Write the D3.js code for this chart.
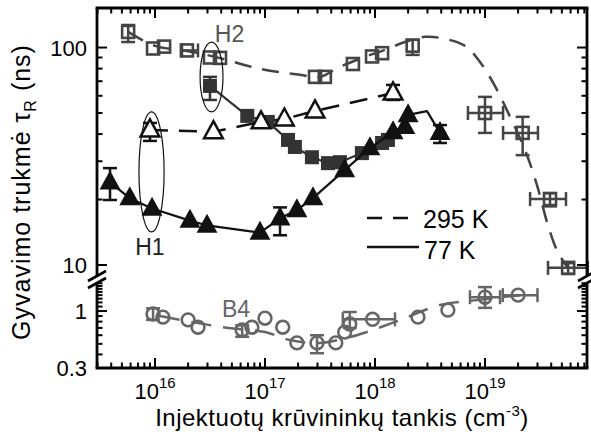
<!DOCTYPE html>
<html>
<head>
<meta charset="utf-8">
<script src="https://cdn.jsdelivr.net/npm/d3@7"></script>
<style>
  body { margin: 0; background: #fff; }
  svg { display: block; }
  text { font-family: "Liberation Sans", Arial, Helvetica, sans-serif; }
</style>
</head>
<body>
<svg id="chart" width="591" height="435"></svg>
<script>
// ---- data: injected carrier density (cm^-3) vs. recombination lifetime (ns) ----
const xTickValues = [1e16, 1e17, 1e18, 1e19];
const xTickExponents = ["16", "17", "18", "19"];
const yTicksUpper = [10, 100];
const yTickLabelsUpper = ["10", "100"];
const yTicksLower = [0.3, 1];
const yTickLabelsLower = ["0.3", "1"];

// 295 K, open squares
const sq295 = [[5.7e15, 118], [9.6e15, 99], [1.21e16, 101], [1.95e16, 97], [3.16e16, 90], [3.9e16, 89.6],
  [2.85e17, 73.3], [3.5e17, 73.3], [6.3e17, 84], [9.4e17, 91], [1.16e18, 94.2], [2.2e18, 102],
  [1.0e19, 50], [2.2e19, 40.5], [3.9e19, 20.1], [5.7e19, 9.7]];
// error bars: [index, xLo, xHi, yLo, yHi]
const sq295Err = [[0, null, null, 106, 127], [3, 1.76e16, 2.46e16, null, null], [11, null, null, 92.5, 108.5],
  [12, 7.0e18, 1.46e19, 40.5, 59.3], [13, 1.46e19, 3.03e19, 32, 48], [14, 2.57e19, 5.45e19, 18.6, 21.4],
  [15, 3.74e19, 8.6e19, 9.1, 10.2]];
// 295 K trend curve for the squares
const sq295Fit = [[5.7e15, 118], [1e16, 101.8], [1.95e16, 96.5], [3.51e16, 90.6], [9.0e16, 79.8], [2.08e17, 74.9],
  [3.16e17, 73.3], [4.8e17, 81.5], [8.1e17, 90.6], [1.23e18, 97.6], [1.87e18, 106], [2.85e18, 112],
  [4.33e18, 109.6], [6.58e18, 101.8], [9.0e18, 85.9], [1.23e19, 66.6], [1.69e19, 48], [2.31e19, 33.8],
  [2.97e19, 23.3], [3.74e19, 15.2], [4.61e19, 11.4], [5.7e19, 9.7]];

// 295 K, open triangles
const tri295 = [[9.0e15, 41.8], [3.4e16, 41.0], [9.2e16, 45.5], [1.5e17, 46.9], [2.85e17, 51.1], [1.46e18, 61.8]];
const tri295Err = [[0, null, null, 37.2, 45], [5, null, null, 57.4, 67.3]];

// 77 K, filled squares
const sq77 = [[3.16e16, 66.6], [6.9e16, 48.5], [1.06e17, 45.5], [1.62e17, 37.6], [1.87e17, 34.9], [2.67e17, 31.3],
  [3.74e17, 29.4], [4.8e17, 29.7], [7.6e17, 32.7], [1.16e18, 36.4], [1.31e18, 37.6]];
const sq77Err = [[0, null, null, 57.4, 73.3]];

// 77 K, filled triangles
const tri77 = [[3.9e15, 24.0], [5.9e15, 20.3], [9.4e15, 18.2], [2.08e16, 16.0], [2.97e16, 15.2], [9.0e16, 14.1],
  [1.37e17, 16.4], [1.95e17, 17.9], [2.73e17, 20.3], [5.3e17, 27.3], [9.0e17, 34.5], [1.46e18, 40.9],
  [1.87e18, 43.2], [2.0e18, 49.0], [3.9e18, 40.5]];
const tri77Err = [[0, null, null, 19.9, 27.9], [6, null, null, 13.7, 18.4], [14, null, null, 36.4, 44]];
const tri77Turn = [2.97e18, 51];

// B4, open circles (lower panel)
const b4 = [[9.6e15, 0.94], [1.18e16, 0.88], [2.0e16, 0.83], [2.46e16, 0.71], [6.2e16, 0.67], [7.6e16, 0.71],
  [1.0e17, 0.86], [1.45e17, 0.71], [1.95e17, 0.51], [2.97e17, 0.51], [4.4e17, 0.51], [5.3e17, 0.64],
  [5.9e17, 0.76], [9.5e17, 0.84], [2.46e18, 0.88], [4.6e18, 1.02], [1.0e19, 1.34], [2.0e19, 1.40]];
const b4Err = [[0, null, null, 0.83, 1.06], [4, null, null, 0.58, 0.74], [9, null, null, 0.41, 0.60],
  [12, null, null, 0.70, 0.98], [13, 5.1e17, 1.52e18, null, null], [16, 7.3e18, 1.37e19, 1.07, 1.66],
  [17, 1.45e19, 3.0e19, null, null]];
const b4Fit = [[1.11e16, 0.90], [4.06e16, 0.713], [1e17, 0.642], [1.69e17, 0.542], [3.16e17, 0.509],
  [5.93e17, 0.577], [8.46e17, 0.642], [1.69e18, 0.827], [3.9e18, 1.135], [8.46e18, 1.26], [2.08e19, 1.40]];

// ---- layout ----
const svg = d3.select("#chart");
const L = 97, R = 587, T = 8, B = 368;
const upperBottom = 276, lowerTop = 283;

const x = d3.scaleLog().domain([2.97e15, 8.46e19]).range([L, R]);
const yU = d3.scaleLog().domain([8.9, 152]).range([upperBottom, T]);
const yL = d3.scaleLog().domain([0.3, 1.81]).range([B, lowerTop]);

const black = "#111", gray = "#444", darkGray = "#333", lightGray = "#666";
const FONT = 22;

// ---- clip regions for the two panels ----
const defs = svg.append("defs");
defs.append("clipPath").attr("id", "clipU").append("rect")
  .attr("x", L).attr("y", T).attr("width", R - L + 4).attr("height", upperBottom - T + 4);
defs.append("clipPath").attr("id", "clipL").append("rect")
  .attr("x", L).attr("y", lowerTop).attr("width", R - L + 4).attr("height", B - lowerTop);

const gU = svg.append("g").attr("clip-path", "url(#clipU)");
const gL = svg.append("g").attr("clip-path", "url(#clipL)");

// ---- helpers ----
function line(g, data, y, color, width, dash, curve) {
  g.append("path").datum(data)
    .attr("d", d3.line().x(d => x(d[0])).y(d => y(d[1])).curve(curve || d3.curveLinear))
    .attr("fill", "none").attr("stroke", color).attr("stroke-width", width)
    .attr("stroke-dasharray", dash || null).attr("stroke-linejoin", "round");
}
function errorBars(g, data, errs, y, color) {
  const cap = 7;
  errs.forEach(([i, xLo, xHi, yLo, yHi]) => {
    const cx = x(data[i][0]), cy = y(data[i][1]);
    if (yLo != null) {
      g.append("line").attr("x1", cx).attr("x2", cx).attr("y1", y(yLo)).attr("y2", y(yHi))
        .attr("stroke", color).attr("stroke-width", 2.5);
      [yLo, yHi].forEach(v => g.append("line").attr("x1", cx - cap).attr("x2", cx + cap)
        .attr("y1", y(v)).attr("y2", y(v)).attr("stroke", color).attr("stroke-width", 2.5));
    }
    if (xLo != null) {
      g.append("line").attr("x1", x(xLo)).attr("x2", x(xHi)).attr("y1", cy).attr("y2", cy)
        .attr("stroke", color).attr("stroke-width", 2.5);
      [xLo, xHi].forEach(v => g.append("line").attr("x1", x(v)).attr("x2", x(v))
        .attr("y1", cy - cap).attr("y2", cy + cap).attr("stroke", color).attr("stroke-width", 2.5));
    }
  });
}
const triPath = s => `M0,${-s * 0.62}L${s * 0.55},${s * 0.38}L${-s * 0.55},${s * 0.38}Z`;

// ---- 295 K squares: trend curve, error bars ----
line(gU, sq295Fit, yU, gray, 2.5, "17,11", d3.curveCatmullRom);
errorBars(gU, sq295, sq295Err, yU, gray);

// ---- 295 K open triangles: line and error bars ----
line(gU, tri295, yU, black, 2.5, "18,11");
errorBars(gU, tri295, tri295Err, yU, black);

// ---- 77 K filled squares ----
line(gU, sq77, yU, darkGray, 2.2);
errorBars(gU, sq77, sq77Err, yU, darkGray);
gU.selectAll(".sq77").data(sq77).join("rect")
  .attr("x", d => x(d[0]) - 7).attr("y", d => yU(d[1]) - 7)
  .attr("width", 14).attr("height", 14).attr("fill", darkGray);

// ---- 77 K filled triangles ----
line(gU, tri77.slice(0, 14).concat([tri77Turn], tri77.slice(14)), yU, black, 2.2);
errorBars(gU, tri77, tri77Err, yU, black);
gU.selectAll(".tri77").data(tri77).join("path")
  .attr("d", triPath(19)).attr("transform", d => `translate(${x(d[0])},${yU(d[1])})`)
  .attr("fill", black);

// ---- 295 K markers ----
gU.selectAll(".tri295").data(tri295).join("path")
  .attr("d", triPath(17)).attr("transform", d => `translate(${x(d[0])},${yU(d[1])})`)
  .attr("fill", "#fff").attr("stroke", black).attr("stroke-width", 2.5);

gU.selectAll(".sq295").data(sq295).join("rect")
  .attr("x", d => x(d[0]) - 6).attr("y", d => yU(d[1]) - 6)
  .attr("width", 12).attr("height", 12).attr("fill", "none").attr("stroke", gray).attr("stroke-width", 2.6);

// ---- B4 (lower panel) ----
line(gL, b4Fit, yL, lightGray, 2.5, "20,12", d3.curveCatmullRom);
errorBars(gL, b4, b4Err, yL, lightGray);
gL.selectAll(".b4").data(b4).join("circle")
  .attr("cx", d => x(d[0])).attr("cy", d => yL(d[1])).attr("r", 6.4)
  .attr("fill", "none").attr("stroke", lightGray).attr("stroke-width", 2.6);

// ---- annotation ellipses and labels ----
function ellipse(x0, x1, y0, y1) {
  svg.append("ellipse")
    .attr("cx", (x(x0) + x(x1)) / 2).attr("cy", (yU(y0) + yU(y1)) / 2)
    .attr("rx", (x(x1) - x(x0)) / 2).attr("ry", Math.abs(yU(y0) - yU(y1)) / 2)
    .attr("fill", "none").attr("stroke", black).attr("stroke-width", 1.2);
}
ellipse(7.15e15, 1.21e16, 14.2, 50.6);
ellipse(2.57e16, 4.15e16, 50.6, 106);

svg.append("text").attr("x", x(6.6e15)).attr("y", yU(11.1)).attr("font-size", 23).attr("fill", "#222").text("H1");
svg.append("text").attr("x", x(3.5e16)).attr("y", yU(106)).attr("font-size", 23).attr("fill", "#555").text("H2");
svg.append("text").attr("x", x(4.06e16)).attr("y", yL(0.88)).attr("font-size", 23).attr("fill", lightGray).text("B4");

// ---- legend ----
svg.append("line").attr("x1", 367).attr("x2", 410).attr("y1", 218).attr("y2", 218)
  .attr("stroke", black).attr("stroke-width", 2.5).attr("stroke-dasharray", "15,11");
svg.append("text").attr("x", 423).attr("y", 228).attr("font-size", 25).text("295 K");
svg.append("line").attr("x1", 367).attr("x2", 419).attr("y1", 247).attr("y2", 247)
  .attr("stroke", black).attr("stroke-width", 2.5);
svg.append("text").attr("x", 424).attr("y", 259).attr("font-size", 25).text("77 K");

// ---- frame with axis break ----
const frame = svg.append("g").attr("stroke", "#000").attr("stroke-width", 2.8).attr("fill", "none");
frame.append("line").attr("x1", L - 1.4).attr("x2", R + 1.4).attr("y1", T).attr("y2", T);
frame.append("line").attr("x1", L - 1.4).attr("x2", R + 1.4).attr("y1", B).attr("y2", B);
[L, R].forEach(ax => {
  frame.append("line").attr("x1", ax).attr("x2", ax).attr("y1", T).attr("y2", upperBottom);
  frame.append("line").attr("x1", ax).attr("x2", ax).attr("y1", lowerTop).attr("y2", B);
  [upperBottom, lowerTop].forEach(cy => {
    svg.append("line").attr("x1", ax - 9).attr("x2", ax + 9).attr("y1", cy + 5).attr("y2", cy - 5)
      .attr("stroke", "#000").attr("stroke-width", 2.6);
  });
});

// ---- ticks (all pointing inward, mirrored on top and right) ----
const ticks = svg.append("g").attr("stroke", "#000").attr("stroke-width", 2);
const xMinor = [];
d3.range(15, 20).forEach(e => d3.range(1, 10).forEach(m => {
  const v = m * Math.pow(10, e);
  if (v > x.domain()[0] && v < x.domain()[1]) xMinor.push([v, m === 1]);
}));
xMinor.forEach(([v, major]) => {
  const len = major ? 10 : 5.5;
  ticks.append("line").attr("x1", x(v)).attr("x2", x(v)).attr("y1", B).attr("y2", B - len);
  ticks.append("line").attr("x1", x(v)).attr("x2", x(v)).attr("y1", T).attr("y2", T + len);
});
const yUTicks = [[10, true], [20], [30], [40], [50], [60], [70], [80], [90], [100, true]];
const yLTicks = [[0.4], [0.5], [0.6], [0.7], [0.8], [0.9], [1, true],
  [1.1], [1.2], [1.3], [1.4], [1.5], [1.6], [1.7], [1.8]];
[[yUTicks, yU], [yLTicks, yL]].forEach(([list, y]) => list.forEach(([v, major]) => {
  const len = major ? 10 : 5.5;
  ticks.append("line").attr("x1", L).attr("x2", L + len).attr("y1", y(v)).attr("y2", y(v));
  ticks.append("line").attr("x1", R).attr("x2", R - len).attr("y1", y(v)).attr("y2", y(v));
}));

// ---- tick labels ----
xTickValues.forEach((v, i) => {
  const t = svg.append("text").attr("x", x(v)).attr("y", 399).attr("text-anchor", "middle").attr("font-size", FONT);
  t.append("tspan").text("10");
  t.append("tspan").attr("dy", -11).attr("font-size", 15).text(xTickExponents[i]);
});
yTicksUpper.forEach((v, i) => svg.append("text").attr("x", 87).attr("y", yU(v) + 8)
  .attr("text-anchor", "end").attr("font-size", FONT).text(yTickLabelsUpper[i]));
yTicksLower.forEach((v, i) => svg.append("text").attr("x", 87).attr("y", yL(v) + 8)
  .attr("text-anchor", "end").attr("font-size", FONT).text(yTickLabelsLower[i]));

// ---- axis titles ----
const xt = svg.append("text").attr("x", (L + R) / 2).attr("y", 426).attr("text-anchor", "middle")
  .attr("font-size", 24).attr("letter-spacing", 0.5);
xt.append("tspan").text("Injektuotų krūvininkų tankis (cm");
xt.append("tspan").attr("dy", -10).attr("font-size", 15).text("-3");
xt.append("tspan").attr("dy", 10).text(")");

const yt = svg.append("text").attr("transform", `translate(30,${(T + B) / 2 + 4}) rotate(-90)`)
  .attr("text-anchor", "middle").attr("font-size", 25).attr("letter-spacing", 1);
yt.append("tspan").text("Gyvavimo trukmė τ");
yt.append("tspan").attr("dy", 6).attr("font-size", 16).text("R");
yt.append("tspan").attr("dy", -6).text(" (ns)");
</script>
</body>
</html>
